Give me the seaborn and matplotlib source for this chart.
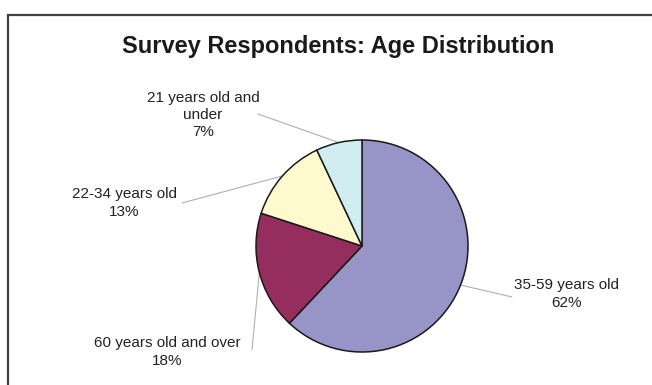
import numpy as np
import matplotlib
matplotlib.use("Agg")
import matplotlib.pyplot as plt
import seaborn as sns

categories = ["35-59 years old", "60 years old and over", "22-34 years old", "21 years old and\nunder"]
values = [62, 18, 13, 7]
colors = ["#9794C8", "#962D5F", "#FFFACD", "#D2EDF2"]

# label layout (pixel positions of label centres, leader end points)
label_pos = [(566, 294), (167, 352), (124, 203), (203, 115)]
leader_end = [(512, 297), (252, 350), (182, 203), (258, 114)]

sns.set_theme(style="white")
plt.rcParams["font.family"] = ["Liberation Sans", "DejaVu Sans"]

W, H = 652, 385
fig = plt.figure(figsize=(W / 100, H / 100), dpi=100)
ax = fig.add_axes([0, 0, 1, 1])
ax.set_xlim(0, W)
ax.set_ylim(H, 0)
ax.set_aspect("equal")
ax.axis("off")

cx, cy, r = 362, 246, 106
# y axis inverted: counterclock=True in data gives clockwise on screen; start at top (-90 in data)
wedges, _ = ax.pie(values, colors=colors, startangle=-90, counterclock=True,
                   center=(cx, cy), radius=r,
                   wedgeprops=dict(edgecolor="#1a1a1a", linewidth=1.1))
ax.set_xlim(0, W)
ax.set_ylim(H, 0)

for w, cat, v, (lx, ly), (ex, ey) in zip(wedges, categories, values, label_pos, leader_end):
    mid = np.deg2rad((w.theta1 + w.theta2) / 2)
    sx, sy = cx + r * np.cos(mid), cy + r * np.sin(mid)
    ax.plot([sx, ex], [sy, ey], color="#b0b0b0", lw=0.8, zorder=0)
    ax.text(lx, ly, f"{cat}\n{v}%", ha="center", va="center", fontsize=11,
            color="#222222", linespacing=1.3)

ax.text(338, 46, "Survey Respondents: Age Distribution", ha="center", va="center",
        fontsize=17, fontweight="bold", color="#1a1a1a")

# frame
ax.plot([8, 8, W + 5], [H + 5, 15, 15], color="#404040", lw=1.6, clip_on=False,
        solid_joinstyle="miter")

fig.savefig("out.png", dpi=100)
